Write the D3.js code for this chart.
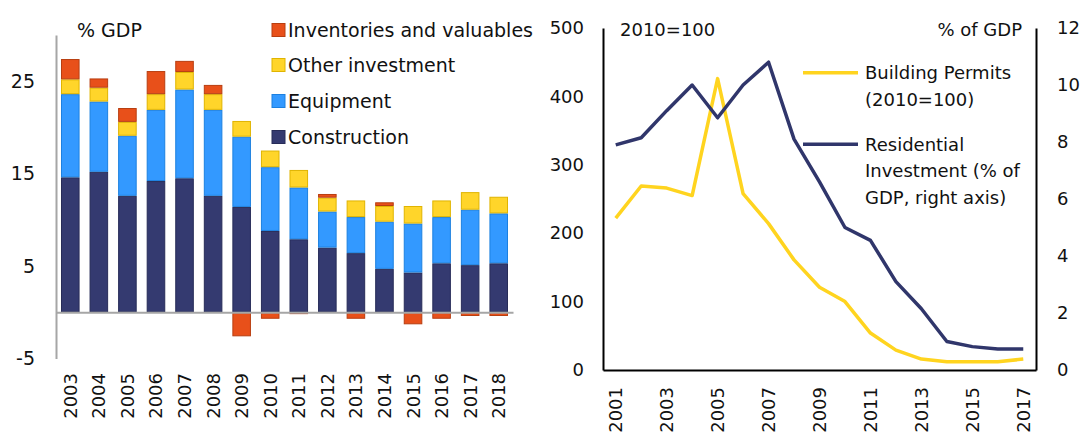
<!DOCTYPE html>
<html><head><meta charset="utf-8">
<script src="https://cdn.jsdelivr.net/npm/d3@7"></script>
<style>
body{margin:0;background:#fff;}
text{font-family:"DejaVu Sans",sans-serif;fill:#111;}
</style></head>
<body>
<svg id="c" width="1084" height="432"></svg>
<script>
// ---------- Left chart data ----------
const years = [2003,2004,2005,2006,2007,2008,2009,2010,2011,2012,2013,2014,2015,2016,2017,2018];
const construction    = [14.6,15.2,12.6,14.2,14.5,12.6,11.4,8.8,7.9,7.0,6.4,4.7,4.3,5.3,5.1,5.3];
const equipment       = [9.0,7.6,6.5,7.7,9.6,9.3,7.6,6.9,5.6,3.9,3.9,5.1,5.3,5.0,6.0,5.4];
const otherInvestment = [1.6,1.5,1.5,1.7,1.9,1.7,1.7,1.8,1.9,1.5,1.8,1.7,1.9,1.8,1.9,1.8];
const inventories     = [2.2,1.0,1.5,2.5,1.2,1.0,-2.6,-0.7,-0.2,0.4,-0.7,0.4,-1.3,-0.7,-0.4,-0.4];
const seriesNames = ["Construction","Equipment","Other investment","Inventories and valuables"];
const leftTicks = [-5,5,15,25];

// ---------- Right chart data ----------
const lineYears = [2001,2002,2003,2004,2005,2006,2007,2008,2009,2010,2011,2012,2013,2014,2015,2016,2017];
const buildingPermits       = [222,269,266,255,426,258,214,161,121,100,54,29,16,12,12,12,16];
const residentialInvestment = [7.9,8.15,9.1,10.0,8.85,10.0,10.8,8.1,6.6,5.0,4.55,3.1,2.15,1.0,0.82,0.74,0.74];
const leftAxisTicks  = [0,100,200,300,400,500];
const rightAxisTicks = [0,2,4,6,8,10,12];
const xTickYears = [2001,2003,2005,2007,2009,2011,2013,2015,2017];
const lineNames = [["Building Permits","(2010=100)"],["Residential","Investment (% of","GDP, right axis)"]];

const svg = d3.select("#c");
const FS = 18;
const fmt = d => String(d); // plain hyphen minus

// ================= LEFT CHART =================
const fills   = ["#343a70","#3399ff","#ffd52a","#e8501a"];
const strokes = ["#272c58","#1c80e0","#e0b400","#b83e10"];
const rows = years.map((yr,i)=>({year:yr,
  "Construction":construction[i],"Equipment":equipment[i],
  "Other investment":otherInvestment[i],"Inventories and valuables":inventories[i]}));

const x = d3.scaleBand().domain(years).range([56,513]).paddingInner(0.35).paddingOuter(0.175);
const y = d3.scaleLinear().domain([-5,30]).range([358.5,35]);

const stacked = d3.stack().keys(seriesNames).offset(d3.stackOffsetDiverging)(rows);
const gL = svg.append("g");
gL.selectAll("g.s").data(stacked).join("g").attr("class","s")
  .attr("fill",(d,i)=>fills[i]).attr("stroke",(d,i)=>strokes[i]).attr("stroke-width",1)
  .selectAll("rect").data(d=>d).join("rect")
  .attr("x",d=>x(d.data.year)+0.5)
  .attr("width",x.bandwidth()-1)
  .attr("y",d=>y(Math.max(d[0],d[1]))+0.5)
  .attr("height",d=>Math.max(0,Math.abs(y(d[0])-y(d[1]))-1));

// left y axis
const ay = gL.append("g").attr("transform","translate(56,0)")
  .call(d3.axisLeft(y).tickValues(leftTicks).tickSize(0).tickSizeOuter(0).tickPadding(21).tickFormat(fmt));
ay.select(".domain").attr("stroke","#a6a6a6").attr("stroke-width",2);
ay.selectAll("text").attr("font-size",FS+1).attr("font-family","DejaVu Sans").attr("fill","#111");

// x axis (zero line)
const ax = gL.append("g").attr("transform",`translate(0,${y(0)})`)
  .call(d3.axisBottom(x).tickSize(0).tickSizeOuter(0));
ax.select(".domain").attr("stroke","#a6a6a6").attr("stroke-width",2);
ax.selectAll("text").attr("font-size",FS).attr("font-family","DejaVu Sans").attr("fill","#111")
  .attr("transform","rotate(-90)").attr("y",0).attr("x",-(373-y(0))).attr("dy","0.36em")
  .attr("text-anchor","end");

gL.append("text").attr("x",77).attr("y",30).attr("dy","0.36em").attr("font-size",FS+1).text("% GDP");

// legend
const legOrder = [3,2,1,0];
const legY = [30,65,101,137];
legOrder.forEach((si,k)=>{
  gL.append("rect").attr("x",272).attr("y",legY[k]-6.5).attr("width",13).attr("height",13)
    .attr("fill",fills[si]).attr("stroke",strokes[si]).attr("stroke-width",1);
  gL.append("text").attr("x",288).attr("y",legY[k]).attr("dy","0.36em").attr("font-size",FS+1).text(seriesNames[si]);
});

// ================= RIGHT CHART =================
const xb = d3.scaleBand().domain(lineYears).range([603,1036]);
const yl = d3.scaleLinear().domain([0,500]).range([370,28]);
const yr = d3.scaleLinear().domain([0,12]).range([370,28]);
const cx = d=>xb(d)+xb.bandwidth()/2;
const gR = svg.append("g");

const lineL = d3.line().x((d,i)=>cx(lineYears[i])).y(d=>yl(d));
const lineR = d3.line().x((d,i)=>cx(lineYears[i])).y(d=>yr(d));
gR.append("path").attr("d",lineL(buildingPermits)).attr("fill","none")
  .attr("stroke","#ffd41f").attr("stroke-width",3.5).attr("stroke-linejoin","round");
gR.append("path").attr("d",lineR(residentialInvestment)).attr("fill","none")
  .attr("stroke","#30366b").attr("stroke-width",3.5).attr("stroke-linejoin","round");

const al = gR.append("g").attr("transform","translate(603,0)")
  .call(d3.axisLeft(yl).tickValues(leftAxisTicks).tickSize(0).tickSizeOuter(0).tickPadding(19).tickFormat(fmt));
const ar = gR.append("g").attr("transform","translate(1036,0)")
  .call(d3.axisRight(yr).tickValues(rightAxisTicks).tickSize(0).tickSizeOuter(0).tickPadding(21).tickFormat(fmt));
const ab = gR.append("g").attr("transform","translate(0,370)")
  .call(d3.axisBottom(xb).tickValues(xTickYears).tickSize(0).tickSizeOuter(0));
[al,ar,ab].forEach(a=>{
  a.select(".domain").attr("stroke","#000").attr("stroke-width",2);
  a.selectAll("text").attr("font-size",FS).attr("font-family","DejaVu Sans").attr("fill","#111");
});
ab.selectAll("text").attr("transform","rotate(-90)").attr("y",0).attr("x",-17)
  .attr("dy","0.36em").attr("text-anchor","end");

gR.append("text").attr("x",620).attr("y",30).attr("dy","0.36em").attr("font-size",FS).text("2010=100");
gR.append("text").attr("x",1022).attr("y",30).attr("dy","0.36em").attr("font-size",FS)
  .attr("text-anchor","end").text("% of GDP");

// legend
const lcol = ["#ffd41f","#30366b"];
const lY = [72.7,144.3];
lineNames.forEach((lines,k)=>{
  gR.append("line").attr("x1",803).attr("x2",858).attr("y1",lY[k]).attr("y2",lY[k])
    .attr("stroke",lcol[k]).attr("stroke-width",3.5);
  lines.forEach((t,j)=>{
    gR.append("text").attr("x",865).attr("y",lY[k]+j*26.5).attr("dy","0.36em").attr("font-size",FS).text(t);
  });
});
</script>
</body></html>
